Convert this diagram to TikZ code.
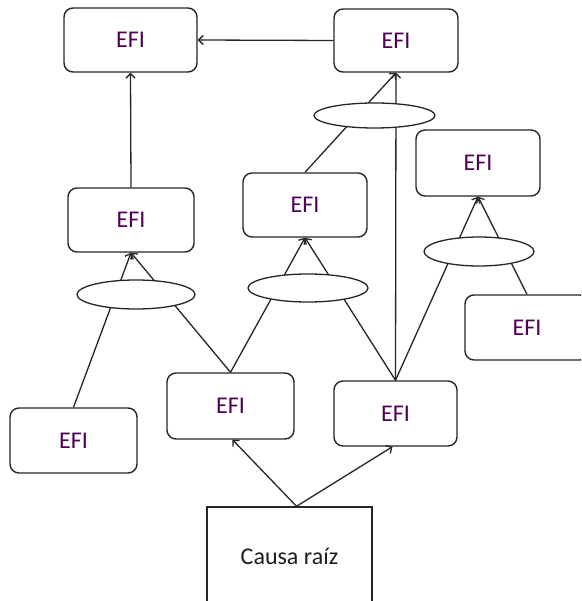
\documentclass[tikz,border=0pt]{standalone}
\usepackage{fontspec}
\setmainfont{Carlito}
\usetikzlibrary{arrows.meta,shapes.geometric}
\definecolor{edge}{RGB}{38,38,38}
\definecolor{efitext}{RGB}{80,0,85}
\definecolor{roottext}{RGB}{30,30,30}
\begin{document}
\begin{tikzpicture}[x=1pt,y=-1pt,
  efi/.style={draw=edge, line width=1.4pt, rounded corners=9pt, fill=white,
    inner sep=0pt, text=efitext, font=\fontsize{24}{28}\selectfont},
  rootbox/.style={draw=edge, line width=1.4pt, fill=white, inner sep=0pt,
    text=roottext, font=\fontsize{24}{28}\selectfont},
  gate/.style={ellipse, draw=edge, line width=1.3pt, fill=white, inner sep=0pt},
  link/.style={draw=edge, line width=1.3pt, -{Straight Barb[length=4.5pt,width=9pt]}}]

\useasboundingbox (0,0) rectangle (581,601);
\fill[white] (0,0) rectangle (581,601);
\clip (0,0) rectangle (581,601);

% event boxes
\node[efi, minimum width=133pt, minimum height=64pt] (tl) at (130.5,40) {EFI};
\node[efi, minimum width=124pt, minimum height=63pt] (tr) at (396,40.5) {EFI};
\node[efi, minimum width=126pt, minimum height=64pt] (lm) at (131,220) {EFI};
\node[efi, minimum width=124pt, minimum height=64pt] (mm) at (305,205) {EFI};
\node[efi, minimum width=124pt, minimum height=66pt] (ru) at (478,163) {EFI};
\node[efi, minimum width=124pt, minimum height=65pt] (rl) at (527,327.5) {EFI};
\node[efi, minimum width=127pt, minimum height=65pt] (fl) at (73.5,440.5) {EFI};
\node[efi, minimum width=127pt, minimum height=66pt] (mb) at (230.5,406) {EFI};
\node[efi, minimum width=123pt, minimum height=65pt] (rb) at (395.5,413.5) {EFI};
\node[rootbox, minimum width=165pt, minimum height=98pt] (root) at (289.5,556) {Causa raíz};

% connectors
\draw[link] (tr.west) -- (tl.east);
\draw[link] (lm.north) -- (tl.south);
\draw[link] (mm.north) -- (tr.south);
\draw[link] (rb.north) -- (tr.south);
\draw[link] (fl.north) -- (lm.south);
\draw[link] (mb.north) -- (lm.south);
\draw[link] (mb.north) -- (mm.south);
\draw[link] (rb.north) -- (mm.south);
\draw[link] (rb.north) -- (ru.south);
\draw[link] (rl.north) -- (ru.south);
\draw[link] ([xshift=7pt]root.north) -- ([xshift=2pt]mb.south);
\draw[link] ([xshift=7pt]root.north) -- ([xshift=-3pt]rb.south);

% junction ellipses laid over the connectors
\node[gate, minimum width=121pt, minimum height=25pt] (eT) at (374.5,115.5) {};
\node[gate, minimum width=118pt, minimum height=29pt] (eL) at (136,294.5) {};
\node[gate, minimum width=120pt, minimum height=28pt] (eM) at (308,288) {};
\node[gate, minimum width=110pt, minimum height=29pt] (eR) at (479,251.5) {};
\end{tikzpicture}
\end{document}
